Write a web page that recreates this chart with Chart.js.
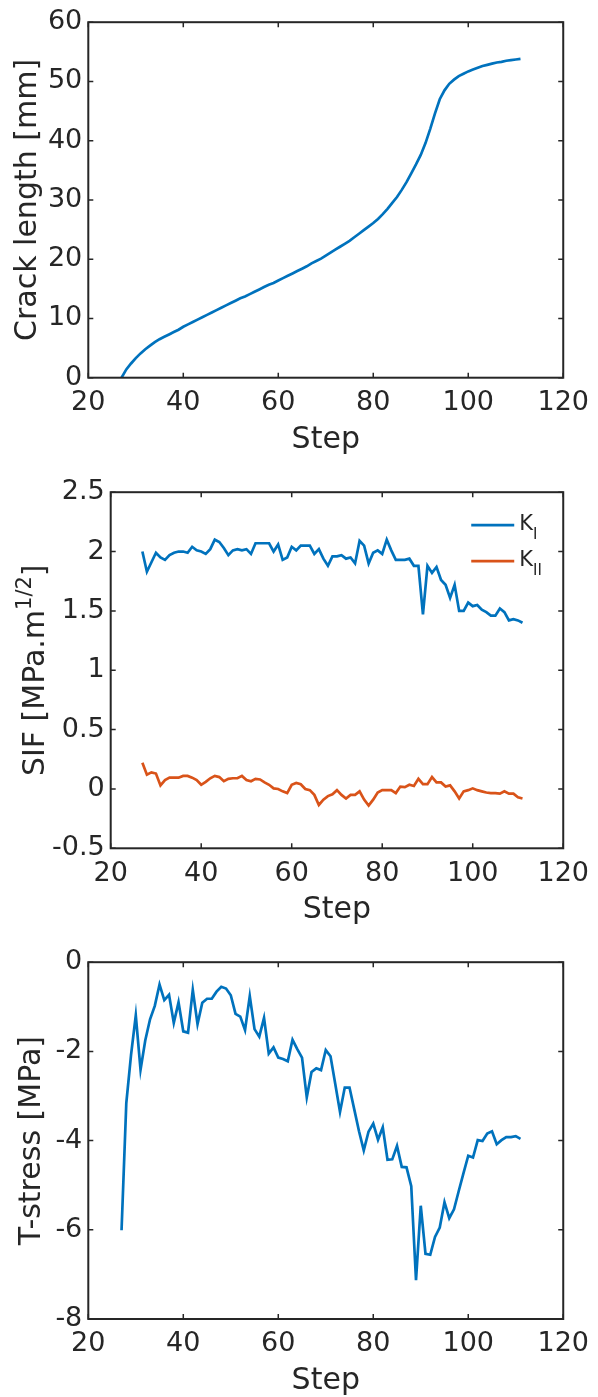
<!DOCTYPE html>
<html>
<head>
<meta charset="utf-8">
<script src="https://cdn.jsdelivr.net/npm/chart.js@4.4.1/dist/chart.umd.min.js"></script>
<style>
  html, body { margin: 0; padding: 0; background: #fff; overflow: hidden; }
  #wrap { position: relative; width: 598px; height: 1397px; }
  canvas { position: absolute; left: 0; }
</style>
</head>
<body>
<div id="wrap">
  <canvas id="crackChart" width="598" height="470" style="top:0px"></canvas>
  <canvas id="sifChart" width="598" height="470" style="top:470px"></canvas>
  <canvas id="tChart" width="598" height="470" style="top:940px"></canvas>
</div>
<script>
// =============================================================================
// DATA
// =============================================================================

const steps = [
  27, 28, 29, 30, 31, 32, 33, 34, 35, 36,
  37, 38, 39, 40, 41, 42, 43, 44, 45, 46,
  47, 48, 49, 50, 51, 52, 53, 54, 55, 56,
  57, 58, 59, 60, 61, 62, 63, 64, 65, 66,
  67, 68, 69, 70, 71, 72, 73, 74, 75, 76,
  77, 78, 79, 80, 81, 82, 83, 84, 85, 86,
  87, 88, 89, 90, 91, 92, 93, 94, 95, 96,
  97, 98, 99, 100, 101, 102, 103, 104, 105, 106,
  107, 108, 109, 110, 111
];

// crack length [mm]
const crackLength = [
  0, 1.4, 2.4, 3.3, 4.1, 4.8, 5.4, 6.0, 6.5, 6.9,
  7.3, 7.7, 8.1, 8.6, 9.0, 9.4, 9.8, 10.2, 10.6, 11.0,
  11.4, 11.8, 12.2, 12.6, 13.0, 13.4, 13.7, 14.1, 14.5, 14.9,
  15.3, 15.7, 16.0, 16.4, 16.8, 17.2, 17.6, 18.0, 18.4, 18.8,
  19.3, 19.7, 20.1, 20.6, 21.1, 21.6, 22.1, 22.6, 23.1, 23.7,
  24.3, 24.9, 25.5, 26.1, 26.8, 27.6, 28.5, 29.5, 30.5, 31.7,
  33.0, 34.5, 36.0, 37.6, 39.6, 42.0, 44.6, 47.0, 48.5, 49.6,
  50.3, 50.9, 51.3, 51.7, 52.0, 52.3, 52.6, 52.8, 53.0, 53.2,
  53.3, 53.5, 53.6, 53.7, 53.8
];

// stress intensity factors [MPa.m^1/2]
const kI = [
  2.00, 1.83, 1.91, 1.99, 1.95, 1.93, 1.97, 1.99, 2.00, 2.00,
  1.99, 2.04, 2.01, 2.00, 1.98, 2.02, 2.10, 2.08, 2.03, 1.97,
  2.01, 2.02, 2.01, 2.02, 1.98, 2.07, 2.07, 2.07, 2.07, 2.00,
  2.06, 1.93, 1.95, 2.04, 2.01, 2.05, 2.05, 2.05, 1.98, 2.02,
  1.94, 1.88, 1.96, 1.96, 1.97, 1.94, 1.95, 1.90, 2.09, 2.05,
  1.90, 1.99, 2.01, 1.98, 2.10, 2.01, 1.93, 1.93, 1.93, 1.94,
  1.88, 1.88, 1.47, 1.88, 1.82, 1.87, 1.76, 1.72, 1.61, 1.72,
  1.50, 1.50, 1.57, 1.54, 1.55, 1.51, 1.49, 1.46, 1.46, 1.52,
  1.49, 1.42, 1.43, 1.42, 1.40
];

const kII = [
  0.22, 0.12, 0.14, 0.13, 0.03, 0.075, 0.095, 0.095, 0.095, 0.11,
  0.11, 0.095, 0.075, 0.035, 0.06, 0.09, 0.11, 0.10, 0.065, 0.085,
  0.09, 0.09, 0.11, 0.075, 0.065, 0.085, 0.08, 0.055, 0.035, 0.005,
  0.0, -0.02, -0.035, 0.035, 0.05, 0.04, 0.0, -0.01, -0.05, -0.135,
  -0.09, -0.06, -0.045, -0.01, -0.05, -0.08, -0.05, -0.05, -0.02, -0.09,
  -0.14, -0.09, -0.03, -0.01, -0.01, -0.01, -0.035, 0.02, 0.015, 0.035,
  0.025, 0.085, 0.04, 0.04, 0.10, 0.055, 0.055, 0.02, 0.03, -0.02,
  -0.08, -0.02, -0.01, 0.005, -0.01, -0.02, -0.03, -0.035, -0.035, -0.04,
  -0.02, -0.04, -0.04, -0.07, -0.08
];

// T-stress [MPa]
const tStress = [
  -6.01, -3.16, -2.08, -1.19, -2.41, -1.75, -1.28, -0.98, -0.50, -0.85,
  -0.73, -1.36, -0.90, -1.55, -1.58, -0.62, -1.39, -0.91, -0.82, -0.82,
  -0.66, -0.55, -0.59, -0.74, -1.16, -1.22, -1.52, -0.76, -1.50, -1.67,
  -1.25, -2.05, -1.91, -2.14, -2.17, -2.22, -1.74, -1.95, -2.14, -3.03,
  -2.46, -2.38, -2.42, -1.97, -2.11, -2.73, -3.36, -2.81, -2.81, -3.30,
  -3.79, -4.22, -3.80, -3.62, -3.98, -3.70, -4.43, -4.42, -4.12, -4.59,
  -4.60, -5.02, -7.13, -5.46, -6.54, -6.56, -6.16, -5.95, -5.38, -5.74,
  -5.54, -5.13, -4.73, -4.34, -4.38, -3.99, -4.01, -3.84, -3.79, -4.08,
  -3.99, -3.92, -3.92, -3.90, -3.96
];

// tick values
const stepTicks = [20, 40, 60, 80, 100, 120];
const crackTicks = [0, 10, 20, 30, 40, 50, 60];
const sifTicks = [-0.5, 0, 0.5, 1, 1.5, 2, 2.5];
const tStressTicks = [-8, -6, -4, -2, 0];

// legend entries: [main text, subscript]
const sifNames = [['K', 'I'], ['K', 'II']];

// =============================================================================
// STYLE
// =============================================================================

const FONT = 'DejaVu Sans';
const INK = '#262626';
const BLUE = '#0072BD';
const ORANGE = '#D95319';
const CANVAS_W = 598;
const CANVAS_H = 470;

// build {x, y} points from the step list
function points(values) {
    return steps.map((s, i) => ({ x: s, y: values[i] }));
}

// MATLAB-like box with inward ticks on all four sides
const boxPlugin = {
    id: 'matlabBox',
    afterDatasetsDraw(chart) {
        const { ctx, chartArea: a, scales } = chart;
        ctx.save();
        ctx.strokeStyle = INK;
        ctx.lineWidth = 1.5;
        ctx.beginPath();
        scales.x.ticks.forEach(t => {
            const px = scales.x.getPixelForValue(t.value);
            ctx.moveTo(px, a.bottom); ctx.lineTo(px, a.bottom - 5);
            ctx.moveTo(px, a.top); ctx.lineTo(px, a.top + 5);
        });
        scales.y.ticks.forEach(t => {
            const py = scales.y.getPixelForValue(t.value);
            ctx.moveTo(a.left, py); ctx.lineTo(a.left + 5, py);
            ctx.moveTo(a.right, py); ctx.lineTo(a.right - 5, py);
        });
        ctx.stroke();
        ctx.lineWidth = 2;
        ctx.strokeRect(a.left, a.top, a.right - a.left, a.bottom - a.top);
        ctx.restore();
    }
};

// legend with subscripts (K_I, K_II), no frame
const sifLegendPlugin = {
    id: 'sifLegend',
    afterDraw(chart) {
        const { ctx, chartArea: a } = chart;
        ctx.save();
        chart.data.datasets.forEach((ds, i) => {
            const y = a.top + 33 + i * 36;
            const x0 = a.right - 92;
            ctx.strokeStyle = ds.borderColor;
            ctx.lineWidth = 2.7;
            ctx.beginPath();
            ctx.moveTo(x0, y);
            ctx.lineTo(x0 + 43, y);
            ctx.stroke();
            ctx.fillStyle = INK;
            ctx.textBaseline = 'alphabetic';
            ctx.textAlign = 'left';
            ctx.font = '21px "' + FONT + '"';
            ctx.fillText(sifNames[i][0], x0 + 48, y + 5);
            const kw = ctx.measureText(sifNames[i][0]).width;
            ctx.font = '15px "' + FONT + '"';
            ctx.fillText(sifNames[i][1], x0 + 48 + kw, y + 14);
        });
        ctx.restore();
    }
};

// y label with superscript: SIF [MPa.m^{1/2}]
const sifTitlePlugin = {
    id: 'sifTitle',
    afterDraw(chart) {
        const { ctx, chartArea: a } = chart;
        const parts = [
            { text: 'SIF [MPa.m', size: 30, dy: 0 },
            { text: '1/2', size: 21, dy: -13 },
            { text: ']', size: 30, dy: 0 }
        ];
        ctx.save();
        ctx.translate(34, (a.top + a.bottom) / 2);
        ctx.rotate(-Math.PI / 2);
        ctx.fillStyle = INK;
        ctx.textBaseline = 'alphabetic';
        ctx.textAlign = 'left';
        let total = 0;
        parts.forEach(p => {
            ctx.font = p.size + 'px "' + FONT + '"';
            p.w = ctx.measureText(p.text).width;
            total += p.w;
        });
        let x = -total / 2;
        parts.forEach(p => {
            ctx.font = p.size + 'px "' + FONT + '"';
            ctx.fillText(p.text, x, 10.4 + p.dy);
            x += p.w;
        });
        ctx.restore();
    }
};

// =============================================================================
// CHARTS
// =============================================================================

// area = plot box inside the canvas (px)
function makeChart(id, datasets, opts) {
    const area = opts.area;
    return new Chart(document.getElementById(id), {
        type: 'line',
        data: { datasets: datasets },
        options: {
            responsive: false,
            animation: false,
            devicePixelRatio: 1,
            layout: { padding: { top: area.top, right: CANVAS_W - area.right, left: 0, bottom: 0 } },
            plugins: { legend: { display: false }, tooltip: { enabled: false } },
            elements: {
                point: { radius: 0 },
                line: { tension: 0, borderWidth: 2.7, fill: false }
            },
            scales: {
                x: {
                    type: 'linear',
                    min: 20,
                    max: 120,
                    afterBuildTicks: s => { s.ticks = stepTicks.map(v => ({ value: v })); },
                    afterFit: s => { s.height = CANVAS_H - area.bottom; },
                    grid: { display: false, drawTicks: false, tickLength: 0 },
                    border: { display: false },
                    ticks: {
                        font: { family: FONT, size: 27 },
                        color: INK,
                        padding: 9,
                        maxRotation: 0,
                        autoSkip: false,
                        callback: v => String(v)
                    },
                    title: {
                        display: true,
                        text: 'Step',
                        color: INK,
                        font: { family: FONT, size: 30 },
                        padding: { top: 0, bottom: opts.xTitlePad }
                    }
                },
                y: {
                    type: 'linear',
                    min: opts.yTicks[0],
                    max: opts.yTicks[opts.yTicks.length - 1],
                    afterBuildTicks: s => { s.ticks = opts.yTicks.map(v => ({ value: v })); },
                    afterFit: s => { s.width = area.left; },
                    grid: { display: false, drawTicks: false, tickLength: 0 },
                    border: { display: false },
                    ticks: {
                        font: { family: FONT, size: 27 },
                        color: INK,
                        padding: 6,
                        autoSkip: false,
                        callback: v => String(v)
                    },
                    title: {
                        display: !!opts.yTitle,
                        text: opts.yTitle || '',
                        color: INK,
                        font: { family: FONT, size: 30 },
                        padding: { top: opts.yTitlePad, bottom: 0 }
                    }
                }
            }
        },
        plugins: [boxPlugin].concat(opts.extra || [])
    });
}

window.addEventListener('DOMContentLoaded', () => {
    makeChart('crackChart', [{
        label: 'Crack length',
        data: points(crackLength),
        borderColor: BLUE
    }], {
        area: { top: 19.3, bottom: 377.7, left: 88.3, right: 571.7 },
        yTicks: crackTicks,
        yTitle: 'Crack length [mm]',
        yTitlePad: 10,
        xTitlePad: 12
    });

    makeChart('sifChart', [{
        label: 'KI',
        data: points(kI),
        borderColor: BLUE
    }, {
        label: 'KII',
        data: points(kII),
        borderColor: ORANGE
    }], {
        area: { top: 19.3, bottom: 378.3, left: 110.7, right: 571.7 },
        yTicks: sifTicks,
        yTitle: null,
        xTitlePad: 11.5,
        extra: [sifLegendPlugin, sifTitlePlugin]
    });

    makeChart('tChart', [{
        label: 'T-stress',
        data: points(tStress),
        borderColor: BLUE
    }], {
        area: { top: 20, bottom: 379, left: 88.3, right: 571.7 },
        yTicks: tStressTicks,
        yTitle: 'T-stress [MPa]',
        yTitlePad: 14,
        xTitlePad: 11
    });
});
</script>
</body>
</html>
